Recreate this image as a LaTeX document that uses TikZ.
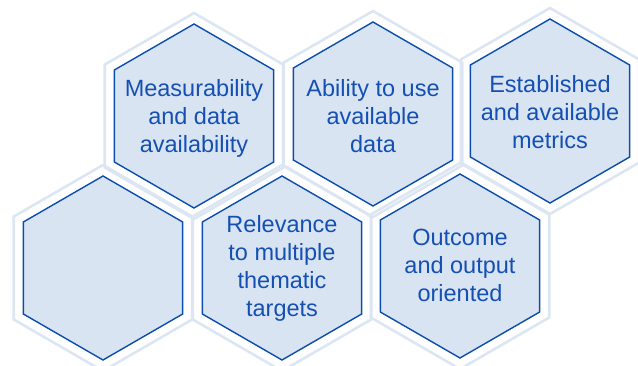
\documentclass[tikz,border=0pt]{standalone}
\usepackage{fontspec}
\setmainfont{Liberation Sans}
\usetikzlibrary{shapes.geometric}
\definecolor{hexline}{HTML}{0B4DAE}
\definecolor{hexfill}{HTML}{D9E4F2}
\definecolor{hexhalo}{HTML}{DCE6F3}
\definecolor{hextext}{HTML}{1450B4}

\tikzset{
	halo/.style={regular polygon, regular polygon sides=6, shape border rotate=30,
		minimum size=206pt, inner sep=0pt, outer sep=0pt, draw=hexhalo, line width=2.6pt},
	hexa/.style={regular polygon, regular polygon sides=6, shape border rotate=30,
		minimum size=184pt, inner sep=0pt, outer sep=0pt, draw=hexline, fill=hexfill, line width=1.4pt},
	hextxt/.style={align=center, text=hextext, font=\fontsize{23.5}{28}\selectfont}
}

\begin{document}
\begin{tikzpicture}[x=1pt, y=-1pt]
		\useasboundingbox (0,0) rectangle (638,365);
		% outer light rings
		\node[halo] (h1) at (194,116) {};
		\node[halo] (h2) at (373,114) {};
		\node[halo] (h3) at (550,111) {};
		\node[halo] (h4) at (103,268) {};
		\node[halo] (h5) at (282,268) {};
		\node[halo] (h6) at (460,266) {};
		% hexagons
		\node[hexa] (measur) at (h1) {};
		\node[hexa] (ability) at (h2) {};
		\node[hexa] (metrics) at (h3) {};
		\node[hexa] (empty) at (h4) {};
		\node[hexa] (relev) at (h5) {};
		\node[hexa] (outcome) at (h6) {};
		% texts
		\node[hextxt] (tmeasur) at ([yshift=-2pt]measur.center) {Measurability\\and data\\availability};
		\node[hextxt] (tability) at ([yshift=-2pt]ability.center) {Ability to use\\available\\data};
		\node[hextxt] (tmetrics) at ([yshift=-1pt]metrics.center) {Established\\and available\\metrics};
		\node[hextxt] (trelev) at (relev.center) {Relevance\\to multiple\\thematic\\targets};
		\node[hextxt] (toutcome) at ([yshift=1pt]outcome.center) {Outcome\\and output\\oriented};
		\end{tikzpicture}
\end{document}
